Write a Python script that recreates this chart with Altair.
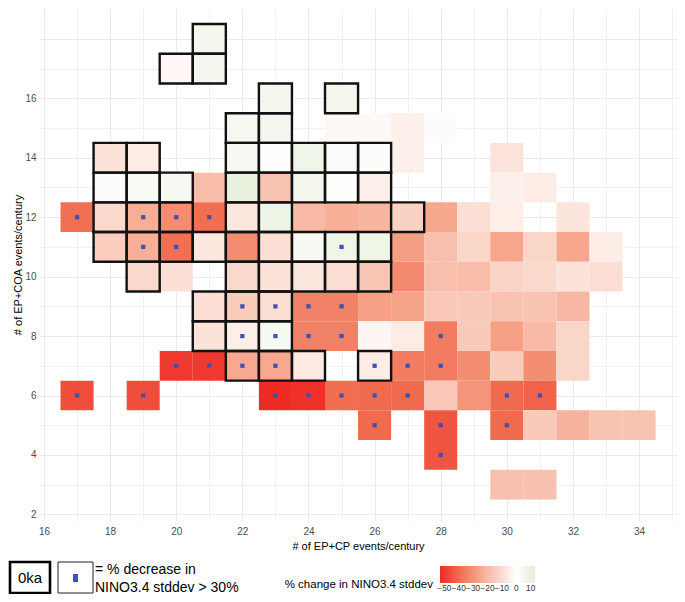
import altair as alt
import pandas as pd

# ---- data (one entry per tile) ----
# x = # of EP+CP events/century, y = # of EP+COA events/century
cell_x = [
    21,
    20, 21,
    23, 25,
    22, 23, 25, 26, 27, 28,
    18, 19, 22, 23, 24, 25, 26, 27, 30,
    18, 19, 20, 21, 22, 23, 24, 25, 26, 30, 31,
    17, 18, 19, 20, 21, 22, 23, 24, 25, 26, 27, 28, 29, 30, 32,
    18, 19, 20, 21, 22, 23, 24, 25, 26, 27, 28, 29, 30, 31, 32, 33,
    19, 20, 22, 23, 24, 25, 26, 27, 28, 29, 30, 31, 32, 33,
    21, 22, 23, 24, 25, 26, 27, 28, 29, 30, 31, 32,
    21, 22, 23, 24, 25, 26, 27, 28, 29, 30, 31, 32,
    20, 21, 22, 23, 24, 26, 27, 28, 29, 30, 31, 32,
    17, 19, 23, 24, 25, 26, 27, 28, 29, 30, 31,
    26, 28, 30, 31, 32, 33, 34,
    28,
    30, 31,
]
cell_y = (
    [18]
    + [17] * 2
    + [16] * 2
    + [15] * 6
    + [14] * 9
    + [13] * 11
    + [12] * 15
    + [11] * 16
    + [10] * 14
    + [9] * 12
    + [8] * 12
    + [7] * 12
    + [6] * 11
    + [5] * 7
    + [4] * 1
    + [3] * 2
)
pct_change = [
    5.5,
    -2.3, 5.5,
    5.5, 5.5,
    5.0, 5.5, -2.0, -2.0, -4.3, 1.5,
    -8.1, -5.8, 4.5, -0.5, 7.0, 2.0, 1.5, -4.3, -7.8,
    1.5, 3.0, 4.5, -19.0, 10.0, -17.2, 5.5, 0.5, -4.6, -4.3, -5.8,
    -38.6, -11.3, -23.2, -31.8, -39.0, -7.0, 8.0, -20.0, -23.0, -21.0, -13.0, -25.0, -9.2, -5.0, -7.5,
    -14.4, -23.0, -38.6, -7.0, -31.8, -9.0, 4.0, 7.5, 7.5, -27.4, -18.4, -11.8, -25.4, -11.8, -25.4, -5.2,
    -11.3, -9.0, -11.3, -8.1, -7.0, -9.8, -16.4, -32.3, -18.4, -19.2, -12.4, -11.3, -8.1, -9.8,
    -9.8, -15.0, -9.2, -34.2, -34.2, -27.0, -26.0, -15.8, -15.3, -17.2, -17.2, -20.5,
    -8.1, -5.0, 4.5, -34.2, -34.2, -2.6, -5.8, -35.9, -15.3, -27.0, -19.8, -11.8,
    -49.8, -49.8, -24.6, -24.6, -6.4, -5.8, -35.6, -35.6, -31.3, -15.0, -31.3, -11.8,
    -45.7, -45.7, -53.0, -51.6, -39.0, -40.0, -40.0, -15.8, -29.9, -40.0, -41.6,
    -40.0, -44.3, -40.0, -15.3, -21.8, -17.2, -17.2,
    -44.3,
    -18.0, -18.0,
]
# 1 = combination also present at 0ka (thick black outline)
at_0ka = [
    1,
    1, 1,
    1, 1,
    1, 1, 0, 0, 0, 0,
    1, 1, 1, 1, 1, 1, 1, 0, 0,
    1, 1, 1, 0, 1, 1, 1, 1, 1, 0, 0,
    0, 1, 1, 1, 0, 1, 1, 0, 0, 0, 1, 0, 0, 0, 0,
    1, 1, 1, 1, 1, 1, 1, 1, 1, 0, 0, 0, 0, 0, 0, 0,
    1, 0, 1, 1, 1, 1, 1, 0, 0, 0, 0, 0, 0, 0,
    1, 1, 1, 0, 0, 0, 0, 0, 0, 0, 0, 0,
    1, 1, 1, 0, 0, 0, 0, 0, 0, 0, 0, 0,
    0, 0, 1, 1, 1, 1, 0, 0, 0, 0, 0, 0,
    0, 0, 0, 0, 0, 0, 0, 0, 0, 0, 0,
    0, 0, 0, 0, 0, 0, 0,
    0,
    0, 0,
]
# 1 = % decrease in NINO3.4 stddev > 30% (blue marker)
big_decrease = [
    0,
    0, 0,
    0, 0,
    0, 0, 0, 0, 0, 0,
    0, 0, 0, 0, 0, 0, 0, 0, 0,
    0, 0, 0, 0, 0, 0, 0, 0, 0, 0, 0,
    1, 0, 1, 1, 1, 0, 0, 0, 0, 0, 0, 0, 0, 0, 0,
    0, 1, 1, 0, 0, 0, 0, 1, 0, 0, 0, 0, 0, 0, 0, 0,
    0, 0, 0, 0, 0, 0, 0, 0, 0, 0, 0, 0, 0, 0,
    0, 1, 1, 1, 1, 0, 0, 0, 0, 0, 0, 0,
    0, 1, 1, 1, 1, 0, 0, 1, 0, 0, 0, 0,
    1, 1, 1, 1, 0, 1, 1, 1, 0, 0, 0, 0,
    1, 1, 1, 1, 1, 1, 1, 0, 0, 1, 1,
    1, 1, 1, 0, 0, 0, 0,
    1,
    0, 0,
]

x_ticks = list(range(16, 36))
y_ticks = list(range(2, 19))
legend_values = [-50, -40, -30, -20, -10, 0, 10]
color_stops = [-53, -40, -26, -13, 0, 13]
color_range = ["#EE2A24", "#F06A4E", "#F6A48A", "#FAD2C4", "#FFFFFF", "#E4EDD6"]

x_title = "# of EP+CP events/century"
y_title = "# of EP+COA events/century"
key_box_text = "0ka"
key_dot_line1 = "= % decrease in"
key_dot_line2 = "NINO3.4 stddev > 30%"
color_title = "% change in NINO3.4 stddev"

df = pd.DataFrame({
    "x": cell_x, "y": cell_y, "pct": pct_change,
    "oka": at_0ka, "dot": big_decrease,
})

FONT = "Liberation Sans"
W, H = 638, 513

xscale = alt.Scale(domain=[15.849, 35.147], nice=False, zero=False)
yscale = alt.Scale(domain=[1.777, 19.04], nice=False, zero=False)

grid_w = {"condition": {"test": "datum.value % 2 == 0", "value": 1.1}, "value": 0.7}

x_axis = alt.Axis(
    values=x_ticks,
    labelExpr="datum.value % 2 == 0 ? datum.label : ''",
    title=x_title, gridWidth=grid_w, labelPadding=5, titlePadding=4,
)
y_axis = alt.Axis(
    values=y_ticks,
    labelExpr="(datum.value % 2 == 0 && datum.value < 18) ? datum.label : ''",
    title=y_title, gridWidth=grid_w, labelPadding=3, titlePadding=1,
)

base = alt.Chart(df).transform_calculate(
    x1="datum.x - 0.5", x2="datum.x + 0.5",
    y1="datum.y - 0.5", y2="datum.y + 0.5",
)

tiles = base.mark_rect(strokeWidth=0).encode(
    x=alt.X("x1:Q", scale=xscale, axis=x_axis),
    x2="x2:Q",
    y=alt.Y("y1:Q", scale=yscale, axis=y_axis),
    y2="y2:Q",
    color=alt.Color(
        "pct:Q",
        scale=alt.Scale(domain=color_stops, range=color_range, interpolate="rgb"),
        title=None,
        legend=alt.Legend(
            orient="none", legendX=401, legendY=558, direction="horizontal",
            gradientLength=95, gradientThickness=17, gradientStrokeWidth=0,
            values=legend_values, labelFontSize=8.3, labelOverlap=False,
            labelOffset=1, padding=0, labelFont=FONT, labelColor="#333333",
        ),
    ),
)

outlines = base.transform_filter("datum.oka == 1").mark_rect(
    filled=False, stroke="#111111", strokeWidth=2.4
).encode(
    x=alt.X("x1:Q", scale=xscale, axis=x_axis),
    x2="x2:Q",
    y=alt.Y("y1:Q", scale=yscale, axis=y_axis),
    y2="y2:Q",
)

markers = alt.Chart(df).transform_filter("datum.dot == 1").mark_square(
    size=18, color="#3F51B5", opacity=1
).encode(
    x=alt.X("x:Q", scale=xscale, axis=x_axis),
    y=alt.Y("y:Q", scale=yscale, axis=y_axis),
)

one = alt.Chart(pd.DataFrame({"k": [0]}))

key_box = one.mark_rect(fill="white", stroke="black", strokeWidth=2.6).encode(
    x=alt.value(-29), x2=alt.value(11), y=alt.value(554), y2=alt.value(585))
key_box_label = one.mark_text(fontSize=15, font=FONT, color="black").encode(
    x=alt.value(-9), y=alt.value(570), text=alt.value(key_box_text))
key_dot_box = one.mark_rect(fill="white", stroke="#222222", strokeWidth=1).encode(
    x=alt.value(19), x2=alt.value(54), y=alt.value(554), y2=alt.value(585))
key_dot = one.mark_rect(color="#3F51B5").encode(
    x=alt.value(34), x2=alt.value(39), y=alt.value(566), y2=alt.value(574))
key_line1 = one.mark_text(fontSize=14, font=FONT, color="black", align="left", baseline="alphabetic").encode(
    x=alt.value(56), y=alt.value(566), text=alt.value(key_dot_line1))
key_line2 = one.mark_text(fontSize=14, font=FONT, color="black", align="left", baseline="alphabetic").encode(
    x=alt.value(56), y=alt.value(584), text=alt.value(key_dot_line2))
color_key_title = one.mark_text(fontSize=11.5, font=FONT, color="black", align="right", baseline="middle").encode(
    x=alt.value(394), y=alt.value(577), text=alt.value(color_title))

chart = alt.layer(
    tiles, outlines, markers,
    key_box, key_box_label, key_dot_box, key_dot, key_line1, key_line2, color_key_title,
).properties(
    width=W, height=H,
    autosize=alt.AutoSizeParams(type="none"),
    padding={"left": 31, "top": 0, "right": 0, "bottom": 73},
).configure_view(strokeWidth=0).configure_axis(
    domain=False, ticks=False, tickSize=0,
    gridColor="#EBEBEB",
    labelFont=FONT, labelFontSize=10, labelColor="#4D4D4D",
    titleFont=FONT, titleFontSize=11, titleFontWeight="normal", titleColor="black",
)

chart.save("out.html", embed_options={"renderer": "svg", "actions": False})
